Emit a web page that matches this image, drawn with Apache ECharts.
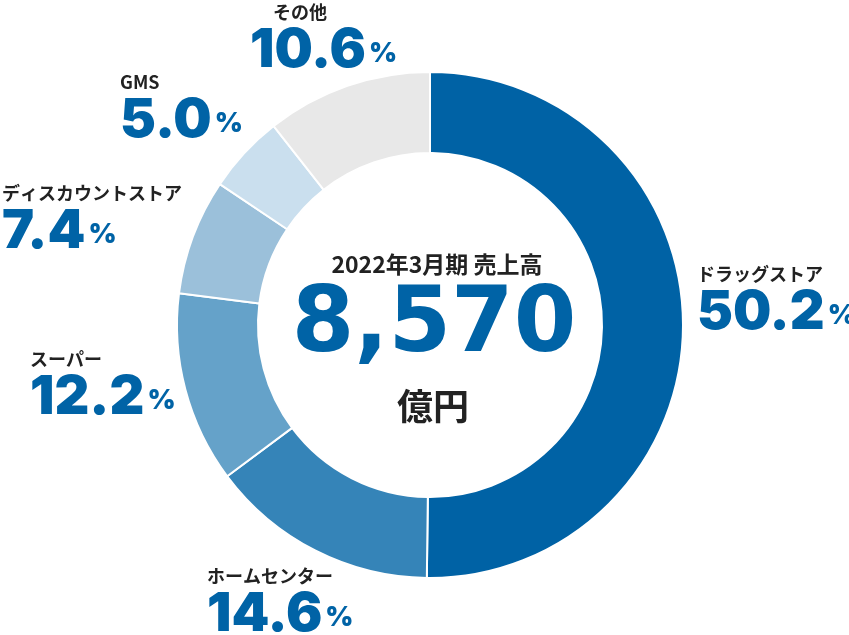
<!DOCTYPE html>
<html>
<head>
<meta charset="utf-8">
<script src="https://cdn.jsdelivr.net/npm/echarts@6/dist/echarts.min.js"></script>
<style>
  html, body { margin: 0; padding: 0; background: #ffffff; }
  #chart { width: 849px; height: 635px; }
</style>
</head>
<body>
<div id="chart"></div>
<script>
// ---- data ----
const categories = ['ドラッグストア', 'ホームセンター', 'スーパー', 'ディスカウントストア', 'GMS', 'その他'];
const shares = [50.2, 14.6, 12.2, 7.4, 5.0, 10.6];
const centerTitle = '2022年3月期 売上高';
const totalSales = '8,570';
const salesUnit = '億円';

// ---- styles / layout (kept separate from data) ----
const sliceColors = ['#0062a5', '#3584b8', '#65a2c9', '#9bc0da', '#cadfee', '#e8e8e8'];
const labelPos = [
  [697, 261], // ドラッグストア
  [207, 563], // ホームセンター
  [30, 346],  // スーパー
  [2, 180],   // ディスカウントストア
  [120, 69],  // GMS
  [250, -1]   // その他
];
const blue = '#0063a6';
const jpFont = '"Noto Sans CJK JP", sans-serif';
const numFont = 'Inter, Roboto, sans-serif';

const chart = echarts.init(document.getElementById('chart'));

chart.setOption({
  animation: false,
  backgroundColor: '#ffffff',
  graphic: [
    { type: 'text', x: 437, y: 264, style: { text: centerTitle, fontSize: 23, fontWeight: 'bold', fontFamily: jpFont, fill: '#222222', align: 'center', verticalAlign: 'middle' } },
    { type: 'text', x: 434, y: 328, style: { text: totalSales, fontSize: 90, fontWeight: 'bold', fontFamily: '"DejaVu Sans", sans-serif', fill: blue, align: 'center', verticalAlign: 'middle' } },
    { type: 'text', x: 433, y: 406, style: { text: salesUnit, fontSize: 36, fontWeight: 'bold', fontFamily: jpFont, fill: '#222222', align: 'center', verticalAlign: 'middle' } }
  ],
  series: [{
    type: 'pie',
    center: [430, 325],
    radius: [172, 253],
    startAngle: 90,
    clockwise: true,
    avoidLabelOverlap: false,
    emphasis: { disabled: true },
    itemStyle: { borderColor: '#ffffff', borderWidth: 2 },
    data: categories.map((name, i) => ({ name, value: shares[i], itemStyle: { color: sliceColors[i] } })),
    label: {
      show: true,
      position: 'outside',
      formatter: (p) => {
        const nameKey = p.dataIndex === 5 ? 'nc' : 'n';
        return '{' + nameKey + '|' + p.name + '}\n{v|' + shares[p.dataIndex].toFixed(1) + '}{p|%}';
      },
      rich: {
        n: { fontSize: 18, fontWeight: 'bold', fontFamily: jpFont, color: '#222222', lineHeight: 26 },
        nc: { fontSize: 18, fontWeight: 'bold', fontFamily: jpFont, color: '#222222', lineHeight: 26, padding: [0, 0, 0, 23] },
        v: { fontSize: 54, fontWeight: 900, fontFamily: numFont, color: blue, lineHeight: 52 },
        p: { fontSize: 27, fontWeight: 900, fontFamily: numFont, color: blue, padding: [6, 0, 0, 3] }
      }
    },
    labelLine: { show: false },
    labelLayout: (params) => ({
      x: labelPos[params.dataIndex][0],
      y: labelPos[params.dataIndex][1],
      align: 'left',
      verticalAlign: 'top'
    })
  }]
});
</script>
</body>
</html>
